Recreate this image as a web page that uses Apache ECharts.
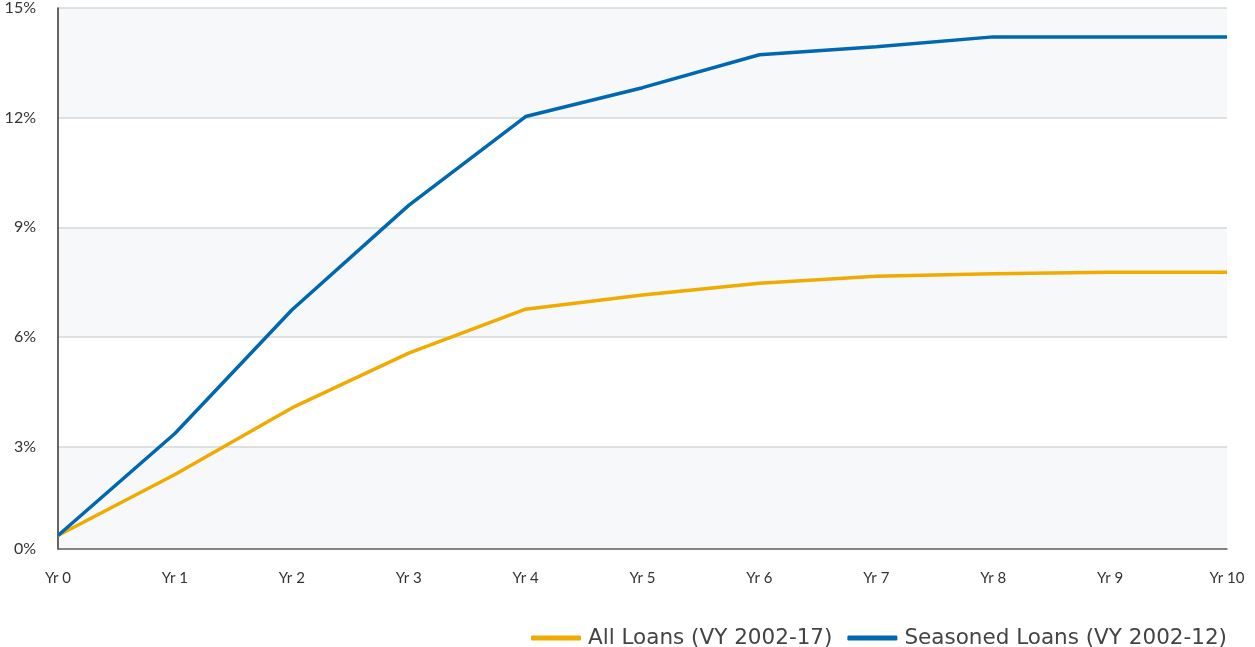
<!DOCTYPE html>
<html>
<head>
<meta charset="utf-8">
<title>Cumulative Loss by Loan Age</title>
<script src="https://cdn.jsdelivr.net/npm/echarts@6/dist/echarts.min.js"></script>
<style>
  html, body { margin: 0; padding: 0; background: #ffffff; }
  #chart { width: 1255px; height: 647px; }
</style>
</head>
<body>
<div id="chart"></div>
<script>
// Loan age buckets on the x axis
const years = ['Yr 0', 'Yr 1', 'Yr 2', 'Yr 3', 'Yr 4', 'Yr 5', 'Yr 6', 'Yr 7', 'Yr 8', 'Yr 9', 'Yr 10'];

// Cumulative rate (%) by year
const allLoans = [0.57, 2.24, 4.06, 5.56, 6.76, 7.15, 7.47, 7.66, 7.73, 7.77, 7.77];
const seasonedLoans = [0.57, 3.36, 6.74, 9.6, 12.03, 12.82, 13.72, 13.94, 14.21, 14.21, 14.21];

const seriesNames = ['All Loans (VY 2002-17)', 'Seasoned Loans (VY 2002-12)'];
const seriesColors = ['#f0ab00', '#0067b1'];

const FONT = 'Lato, "Open Sans", sans-serif';
const LEGEND_FONT = '"DejaVu Sans", "Open Sans", sans-serif';

const chart = echarts.init(document.getElementById('chart'), null, { renderer: 'canvas' });

chart.setOption({
  animation: false,
  grid: { left: 58, right: 28, top: 7, bottom: 98, containLabel: false },
  legend: {
    right: 23,
    top: 622,
    icon: 'roundRect',
    itemWidth: 50,
    itemHeight: 5,
    itemGap: 15,
    data: seriesNames,
    textStyle: { fontFamily: LEGEND_FONT, fontSize: 21.5, fontWeight: 'normal', color: '#444444', padding: [0, 0, 0, 2] }
  },
  xAxis: {
    type: 'category',
    data: years,
    boundaryGap: false,
    axisLine: { show: true, lineStyle: { color: '#666666', width: 1.5 } },
    axisTick: { show: false },
    axisLabel: { margin: 22, fontFamily: FONT, fontSize: 15, color: '#333333' },
    splitLine: { show: false }
  },
  yAxis: {
    type: 'value',
    min: 0.2,
    max: 15,
    minInterval: 3,
    maxInterval: 3,
    splitNumber: 5,
    axisLine: { show: true, lineStyle: { color: '#333333', width: 1.5 } },
    axisTick: { show: false },
    axisLabel: {
      margin: 22,
      fontFamily: FONT,
      fontSize: 16,
      color: '#333333',
      formatter: v => (v < 3 ? 0 : v) + '%'
    },
    splitLine: { show: true, lineStyle: { color: '#d3d8d8', width: 1.5 } },
    splitArea: { show: true, areaStyle: { color: ['#f6f8fa', '#ffffff'] } }
  },
  series: [
    {
      name: seriesNames[0],
      type: 'line',
      data: allLoans,
      symbol: 'none',
      smooth: false,
      lineStyle: { color: seriesColors[0], width: 3.5 },
      itemStyle: { color: seriesColors[0] }
    },
    {
      name: seriesNames[1],
      type: 'line',
      data: seasonedLoans,
      symbol: 'none',
      smooth: false,
      lineStyle: { color: seriesColors[1], width: 3.5 },
      itemStyle: { color: seriesColors[1] }
    }
  ]
});
</script>
</body>
</html>
